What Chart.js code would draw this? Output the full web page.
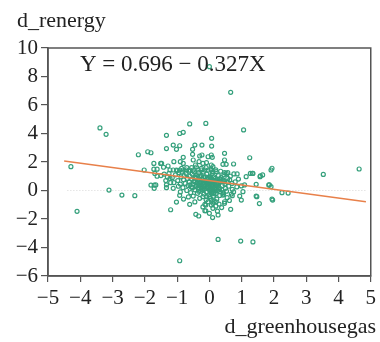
<!DOCTYPE html>
<html lang="en">
<head>
  <meta charset="UTF-8">
  <title>d_renergy vs d_greenhousegas</title>
  <script src="https://cdn.jsdelivr.net/npm/chart.js"></script>
  <style>
    html, body { margin: 0; padding: 0; background: #fff; }
    .wrap { width: 380px; height: 342px; }
  </style>
</head>
<body>
  <div class="wrap"><canvas id="myChart" width="380" height="342"></canvas></div>

  <script>
    const greenhouse = [
      -4.29, -4.1, -3.39, -3.2, -3.11, -2.71, -2.31, -2.2, -1.91, -1.81, -2.02, -1.81, -1.71, -1.71,
      -1.72, -1.62, -1.69, -1.62, -1.51, -1.42, -1.33, -1.33, -0.92, -0.81, -1.2, -0.92, -1.02, -0.92,
      -1.33, -1.33, -1.12, -0.92, -1.02, -0.61, -0.11, 1.06, 0.07, 1.25, 1.94, 3.53, 4.64, 2.25,
      2.44, 1.94, 1.55, 0.27, 0.97, 1.35, 1.84, 1.91, 1.45, 1.47, 1.27, 1.35, 1.58, 1.65,
      0.76, 0.86, 0.75, 0.47, 0.66, 0.27, -0.42, -0.33, -0.11, -0.11, 0.66, 0.0, -0.45, -0.23,
      -0.52, 0.07, -0.52, -0.81, -0.3, -0.23, -0.04, 0.09, -1.1, -0.9, -0.81, -0.5, -0.43, -0.32,
      -0.2, -0.09, -1.72, -1.48, -1.28, -1.22, -1.12, -1.02, -0.92, -0.81, -0.71, -0.61, -0.5, -0.35,
      -0.25, -0.14, -0.04, 0.06, 0.06, 0.47, 0.42, 0.52, 0.06, 0.11, 0.11, 0.21, 0.47, 0.57,
      1.91, -1.66, -1.12, -1.22, -0.5, -0.61, -0.14, -0.14, 0.06, 0.06, -0.04, -0.2, -0.09, 0.01,
      0.52, 1.14, 1.33, 1.57, 1.86, 0.99, 1.09, 0.71, 1.04, 0.94, 1.45, 0.68, 0.71, 0.99,
      1.96, 0.47, 0.47, 0.11, 0.11, 0.21, 0.32, 0.42, 0.57, 0.63, 0.42, 0.47,
      -1.05, -0.98, -0.95, -0.9, -0.88, -0.85, -0.82, -0.8, -0.78, -0.75, -0.72, -0.7, -0.68, -0.66,
      -0.64, -0.62, -0.6, -0.58, -0.56, -0.55, -0.53, -0.5, -0.48, -0.47, -0.45, -0.43, -0.42, -0.4,
      -0.38, -0.37, -0.35, -0.34, -0.32, -0.3, -0.29, -0.27, -0.26, -0.25, -0.23, -0.22, -0.2, -0.19,
      -0.17, -0.16, -0.15, -0.13, -0.12, -0.1, -0.09, -0.08, -0.06, -0.05, -0.04, -0.02, -0.01, 0.0,
      0.01, 0.02, 0.03, 0.04, 0.05, 0.06, 0.07, 0.08, 0.09, 0.1, 0.11, 0.12, 0.13, 0.14,
      0.15, 0.17, 0.18, 0.2, 0.21, 0.23, 0.24, 0.26, 0.28, 0.3, 0.32, 0.34, 0.36, 0.38,
      0.4, 0.43, 0.45, 0.48, 0.5, 0.53, 0.56, 0.6, -0.96, -0.9, -1.1, -1.15, -1.0, -0.86,
      -0.7, -0.55, -0.4, -0.25, -0.1, 0.05, 0.2, 0.35, -0.65, -0.3, -0.1, 0.15, 0.3, -0.45,
      -0.2, 0.2, 0.38, 0.25, -0.8, 0.0, 0.1, -0.6, -0.35, -0.05, 0.05, -0.15, 0.12, -0.25,
      0.28, -0.45, 0.18, -1.5, -1.4, -1.3, -1.25, -1.35, -1.2, 0.65, 0.7, 0.8, 0.85, 0.9,
      0.75, 0.55, 0.62,
      -0.36, -0.31, -0.24, -0.18, -0.14, -0.07, -0.03, 0.02, 0.06, 0.1, 0.16, 0.22, 0.27, 0.33,
      -0.33, -0.27, -0.21, -0.11, -0.06, 0.0, 0.04, 0.09, 0.14, 0.19, 0.25, 0.31, -0.41, -0.16,
      -0.28, -0.2, -0.12, -0.03, 0.03, 0.08, 0.13, 0.24, -0.52, -0.44, 0.37, 0.44
    ];
    const renergy = [
      1.67, -1.46, 4.39, 3.94, 0.03, -0.32, -0.36, 2.51, 2.72, 2.65, 1.44, 0.38, 0.38, 0.15,
      1.5, 1.5, 1.2, 1.0, 1.9, 1.63, 3.87, 2.94, 4.0, 4.08, -1.35, -4.93, -0.81, -0.34,
      0.4, 0.2, 3.19, 3.14, 2.89, 4.67, 4.71, 4.25, 3.66, 2.3, 1.56, 1.13, 1.51, -0.15,
      -0.18, -0.6, -0.92, -3.43, -3.55, -3.61, 0.39, 0.27, 0.43, -0.43, 1.2, 1.2, 1.02, 1.09,
      1.16, 1.16, 1.86, 2.61, -1.32, -1.72, -1.67, -1.79, -1.42, -1.02, 6.89, 8.69, 3.19, 3.19,
      2.89, 3.12, 2.54, 2.33, 2.42, 2.49, 2.37, 2.33, 2.02, 2.02, 1.9, 2.14, 1.79, 2.02,
      1.9, 1.95, 1.9, 1.9, 1.72, 1.44, 1.44, 1.44, 1.44, 1.44, 1.44, 1.44, 1.44, 1.44,
      1.44, 1.44, 1.44, 1.44, 2.49, 2.14, 1.84, 1.84, 1.79, 1.67, 1.32, 1.32, 1.25, 1.25,
      1.44, 0.39, 0.15, 0.85, -0.39, -0.97, -0.97, -1.42, -0.67, -1.02, -0.79, -0.43, -0.43, -0.43,
      1.2, 0.97, 1.2, 0.97, 0.39, 0.32, 0.39, 0.08, -0.08, -0.39, -0.39, -0.25, -0.36, -0.67,
      -0.67, -0.79, -0.9, -1.25, -0.9, -0.79, -0.08, -0.32, 0.85, 0.74, 0.74, 0.62,
      1.1, 0.7, 1.25, 0.45, 0.95, 1.3, 0.2, 0.75, 1.05, 0.5, 1.2, 0.0, 0.85, 0.35,
      1.35, 0.6, 1.0, -0.15, 0.25, 0.8, 1.15, 0.45, 0.65, 1.3, 0.05, 0.9, 0.3, 1.1,
      0.55, -0.2, 0.75, 1.25, 0.15, 0.95, 0.4, 0.6, -0.05, 1.05, 0.25, 0.8, 0.5, 1.3,
      -0.25, 0.7, 0.1, 0.95, 0.35, 0.6, -0.1, 1.15, 0.2, 0.8, 0.45, -0.3, 0.65, 0.05,
      1.0, 0.3, -0.55, 0.55, 0.85, -0.2, 0.15, 0.4, 1.2, 0.7, -0.05, 0.25, -0.4, 0.95,
      0.5, 0.1, -0.25, 0.75, 0.35, -0.6, 0.55, 0.0, 1.05, 0.2, -0.35, 0.6, 0.9, 0.05,
      0.35, -0.15, 1.1, 0.45, 0.15, -0.05, 0.6, 0.3, 0.3, -0.1, 0.55, 0.9, 1.4, 1.55,
      1.6, 1.6, 1.65, 1.55, 1.6, 1.5, 1.45, 1.35, -0.45, -0.55, -0.65, -0.75, -0.95, -0.8,
      -1.15, -1.1, -1.2, -1.45, -0.6, -1.6, -1.9, 0.4, 0.35, 0.25, 0.0, 0.45, 0.6, 0.3,
      0.5, 0.6, 0.85, 1.05, 1.15, 0.95, 1.2, 0.7, 0.55, 1.0, 0.5, 0.6, 0.25, 0.8,
      -0.1, -0.5, -0.7,
      0.2, 0.62, 0.38, 0.9, 0.12, 0.52, 0.28, 0.78, 0.1, 0.42, 0.68, 0.05, 0.32, 0.8,
      -0.05, 1.0, 0.15, 0.58, 0.88, 0.35, 0.7, -0.12, 0.6, 0.2, 0.4, 0.12, 0.85, 0.3,
      0.48, 0.05, 0.72, 0.15, 0.92, 0.55, -0.2, 0.68, 0.2, 0.95, 0.75, -0.25
    ];

    // fitted line Y = 0.696 - 0.327X, ends as drawn in the picture
    const fitX = [-4.5, 4.85];
    const fitY = [2.07, -0.79];
    // faint dotted zero line
    const zeroX = [-4.4, 4.85];
    const zeroY = [0, 0];

    const xTicks = [-5, -4, -3, -2, -1, 0, 1, 2, 3, 4, 5];
    const yTicks = [-6, -4, -2, 0, 2, 4, 6, 8, 10];

    const yTitle = 'd_renergy';
    const xTitle = 'd_greenhousegas';
    const equation = 'Y = 0.696 \u2212 0.327X';

    const serif = "'Liberation Serif', 'Times New Roman', serif";
    const minus = v => (v < 0 ? '\u2212' + Math.abs(v) : String(v));

    const frame = {
      id: 'frame',
      beforeDraw(chart) {
        const c = chart.ctx;
        c.save();
        c.fillStyle = '#fff';
        c.fillRect(0, 0, chart.width, chart.height);
        c.restore();
      },
      afterDraw(chart) {
        const c = chart.ctx;
        const a = chart.chartArea;
        c.save();
        c.strokeStyle = '#555';
        c.lineWidth = 1.5;
        c.strokeRect(a.left, a.top, a.right - a.left, a.bottom - a.top);
        c.fillStyle = '#222';
        c.textBaseline = 'alphabetic';
        c.textAlign = 'left';
        c.font = '22px ' + serif;
        c.fillText(yTitle, 17, 27);
        c.font = '23px ' + serif;
        c.fillText(equation, 80, 71);
        c.font = '22px ' + serif;
        c.textAlign = 'right';
        c.fillText(xTitle, 376, 333);
        c.restore();
      }
    };

    const ctx = document.getElementById('myChart').getContext('2d');
    new Chart(ctx, {
      type: 'scatter',
      data: {
        datasets: [
          {
            label: 'fit',
            type: 'line',
            data: fitX.map((x, i) => ({ x: x, y: fitY[i] })),
            borderColor: '#e8804a',
            borderWidth: 1.3,
            pointRadius: 0,
            fill: false,
            order: 0
          },
          {
            label: 'obs',
            data: greenhouse.map((x, i) => ({ x: x, y: renergy[i] })),
            borderColor: '#35a07c',
            backgroundColor: 'rgba(255,255,255,0)',
            pointRadius: 2,
            pointBorderWidth: 1.2,
            order: 1
          },
          {
            label: 'zero',
            type: 'line',
            data: zeroX.map((x, i) => ({ x: x, y: zeroY[i] })),
            borderColor: '#d8d8d8',
            borderWidth: 1,
            borderDash: [1, 2],
            pointRadius: 0,
            fill: false,
            order: 2
          }
        ]
      },
      options: {
        responsive: false,
        animation: false,
        layout: { padding: { top: 48, right: 8, left: 0, bottom: 0 } },
        plugins: {
          legend: { display: false },
          tooltip: { enabled: false }
        },
        scales: {
          x: {
            type: 'linear',
            min: -5,
            max: 5,
            afterBuildTicks: s => { s.ticks = xTicks.map(v => ({ value: v })); },
            afterFit: s => { s.height = 66; },
            border: { display: true, color: '#555', width: 1.5 },
            grid: { drawOnChartArea: false, drawTicks: true, tickLength: 6, color: '#555', lineWidth: 1.2 },
            ticks: {
              color: '#222',
              padding: 4,
              maxRotation: 0,
              autoSkip: false,
              font: { family: serif, size: 21 },
              callback: minus
            }
          },
          y: {
            type: 'linear',
            min: -6,
            max: 10,
            afterBuildTicks: s => { s.ticks = yTicks.map(v => ({ value: v })); },
            afterFit: s => { s.width = 48; },
            border: { display: true, color: '#555', width: 1.5 },
            grid: { drawOnChartArea: false, drawTicks: true, tickLength: 7, color: '#555', lineWidth: 1.2 },
            ticks: {
              color: '#222',
              padding: 3,
              autoSkip: false,
              font: { family: serif, size: 21 },
              callback: minus
            }
          }
        }
      },
      plugins: [frame]
    });
  </script>
</body>
</html>
